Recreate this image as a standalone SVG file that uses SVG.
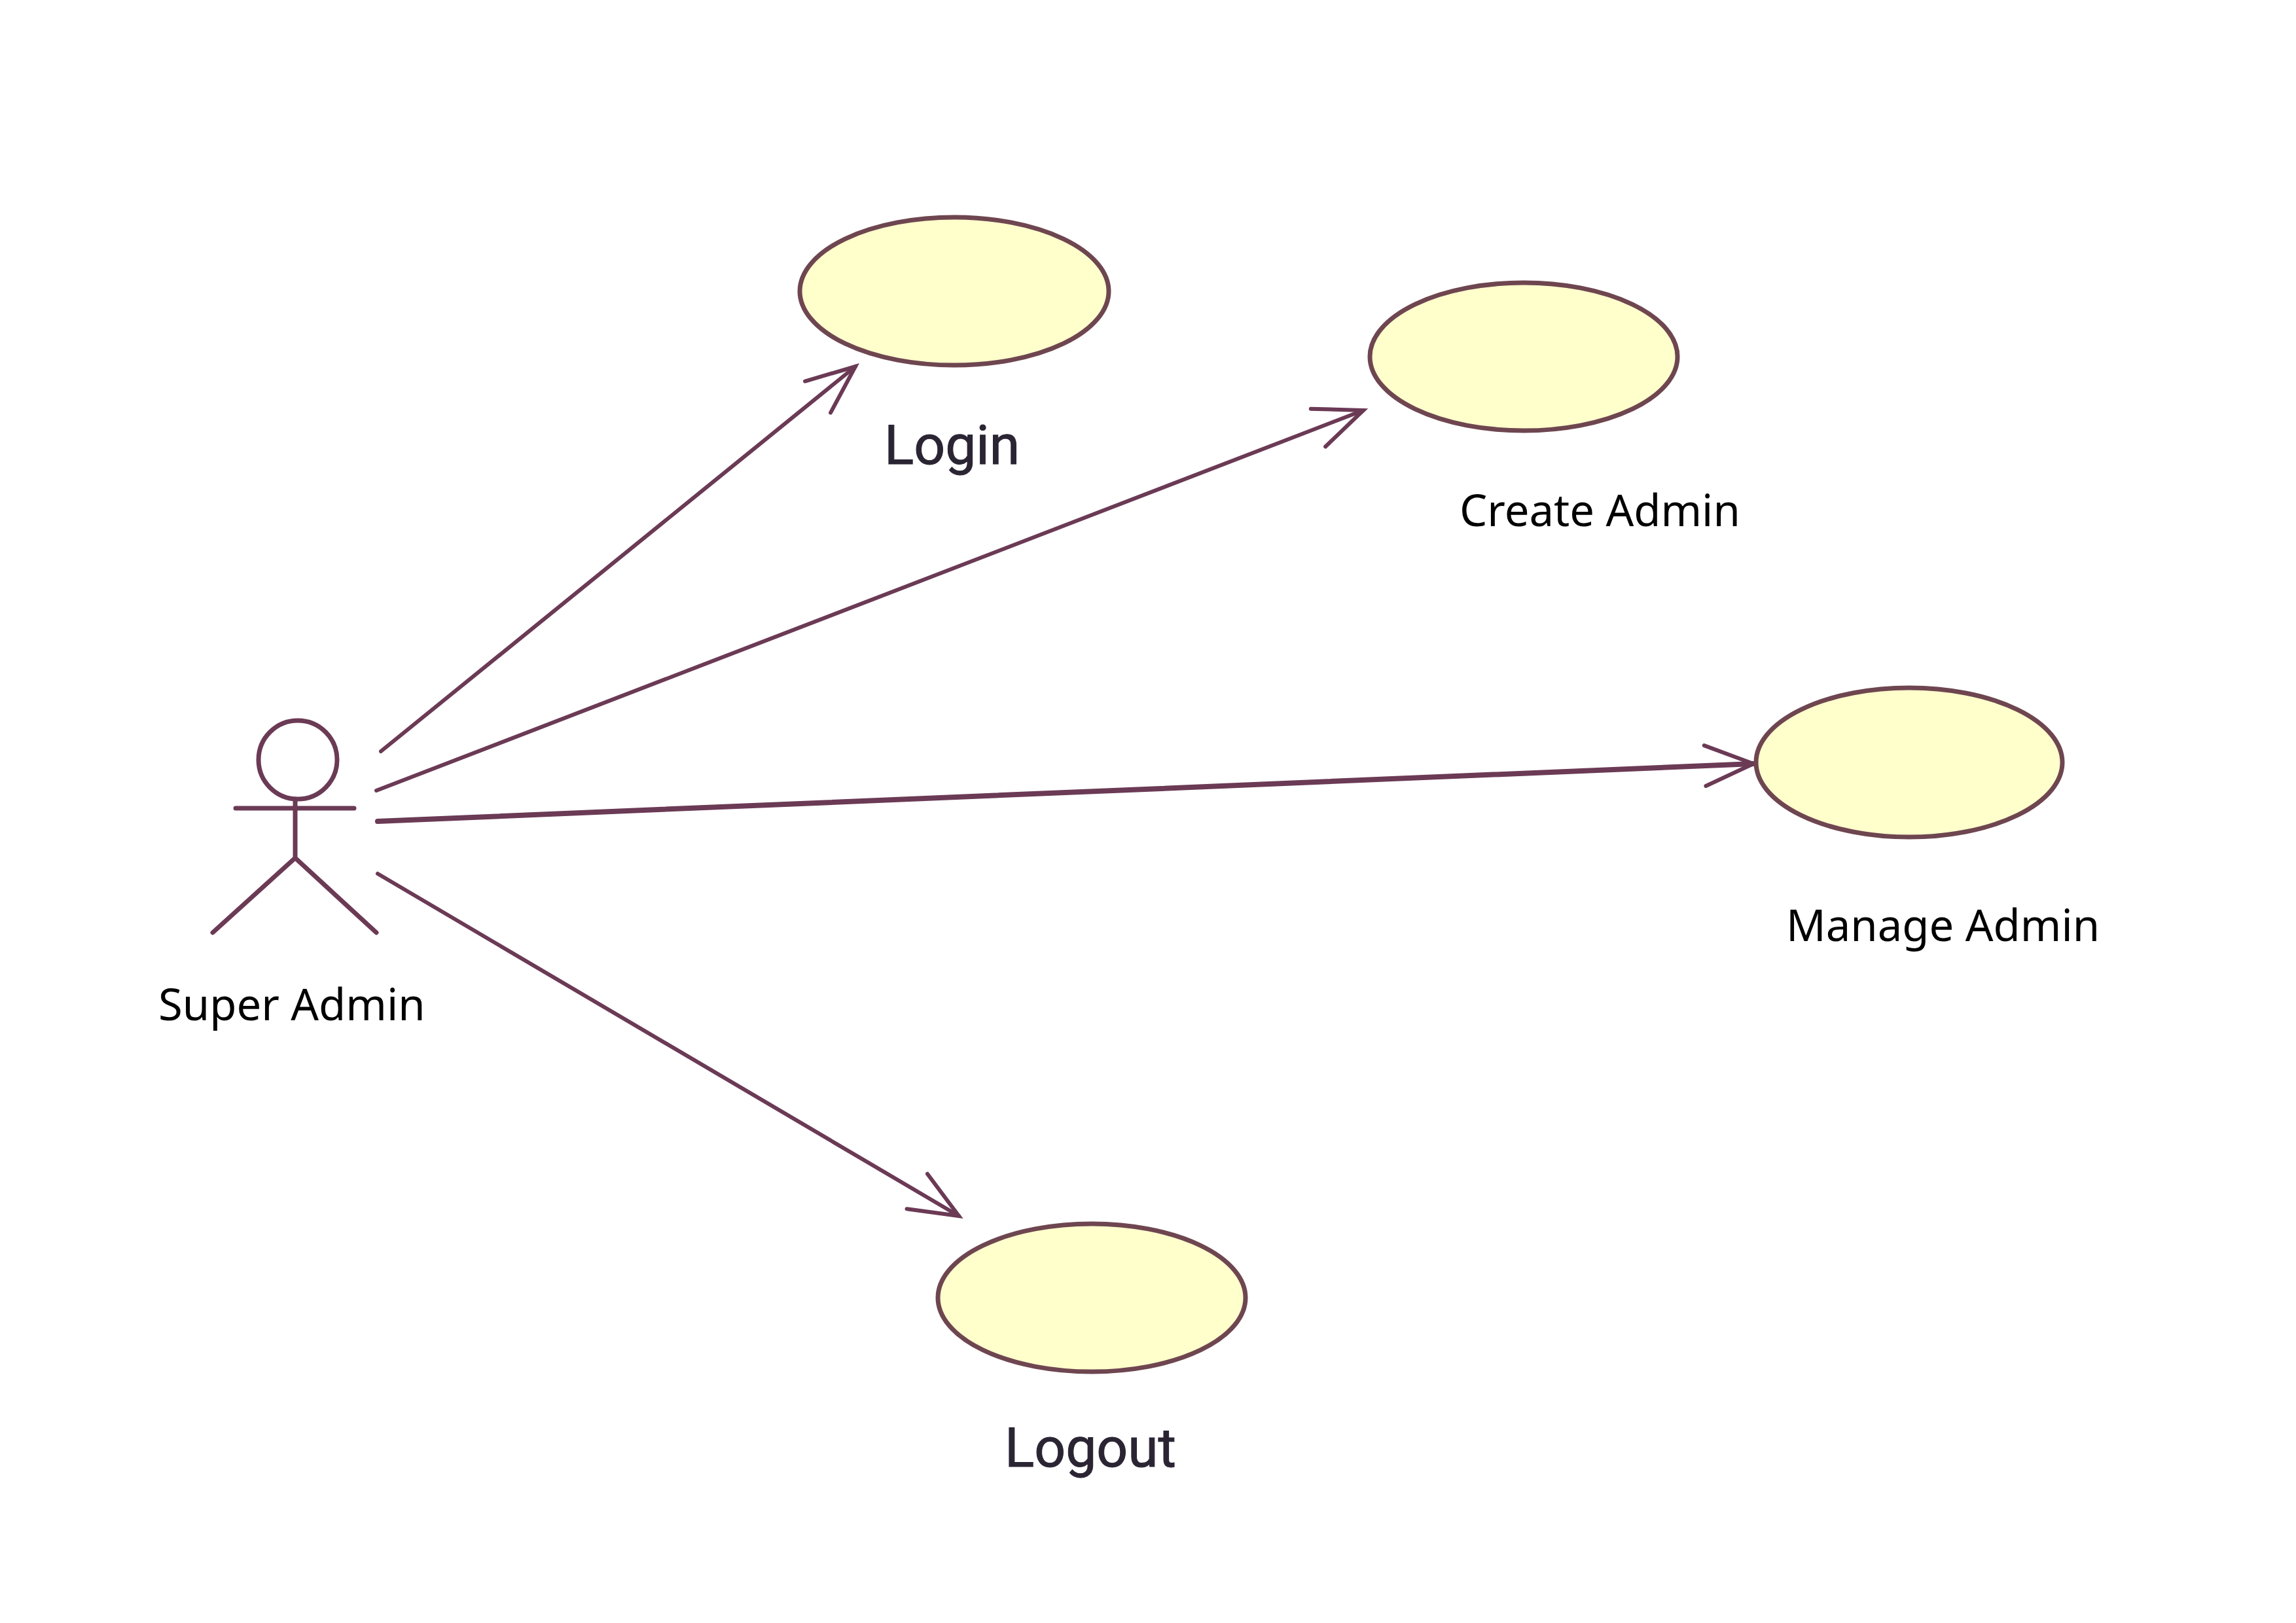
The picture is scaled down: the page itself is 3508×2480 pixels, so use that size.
<svg xmlns="http://www.w3.org/2000/svg" width="3508" height="2480" viewBox="0 0 3508 2480">
<style>
.usecase{fill:#ffffcc;stroke:#6e4650;stroke-width:7}
.actor{fill:none;stroke:#6b3a55;stroke-width:7;stroke-linecap:round}
.assoc{fill:none;stroke:#6b3a55;stroke-width:6;stroke-linecap:round;marker-end:url(#open)}
.myriad{font-family:"Noto Sans","Open Sans",sans-serif;font-size:67px;fill:#000}
.roboto{font-family:Roboto,"Liberation Sans",sans-serif;font-size:84px;font-weight:400;fill:#2a2433;stroke:#2a2433;stroke-width:1}
</style>
<defs>
<marker id="open" markerUnits="userSpaceOnUse" markerWidth="100" markerHeight="100" viewBox="-90 -50 100 100" refX="0" refY="0" orient="auto" overflow="visible">
<path d="M-74,-31 L0,0 L-74,31" fill="none" stroke="#6b3a55" stroke-width="6" stroke-linecap="round"/>
</marker>
</defs>
<rect width="3508" height="2480" fill="#fff"/>
<g id="connectors">
<line class="assoc" x1="582" y1="1148" x2="1307" y2="560"/>
<line class="assoc" x1="575" y1="1208" x2="2083" y2="627"/>
<line class="assoc" style="stroke-width:8" x1="577" y1="1255" x2="2679" y2="1167"/>
<line class="assoc" x1="577" y1="1335" x2="1465" y2="1858"/>
</g>
<g id="actor-super-admin">
<circle class="actor" cx="455" cy="1161" r="60"/>
<path class="actor" d="M451,1221V1311M360,1235H541M325,1425L451,1311L575,1425"/>
<text class="myriad" x="242" y="1559">Super Admin</text>
</g>
<g id="usecase-login">
<ellipse class="usecase" cx="1458" cy="445" rx="236" ry="113"/>
<text class="roboto" x="1351" y="709">Login</text>
</g>
<g id="usecase-create-admin">
<ellipse class="usecase" cx="2328" cy="545" rx="235" ry="113"/>
<text class="myriad" x="2230" y="804">Create Admin</text>
</g>
<g id="usecase-manage-admin">
<ellipse class="usecase" cx="2917" cy="1165" rx="234" ry="114"/>
<text class="myriad" x="2729" y="1438">Manage Admin</text>
</g>
<g id="usecase-logout">
<ellipse class="usecase" cx="1668" cy="1983" rx="235" ry="113"/>
<text class="roboto" x="1535" y="2241">Logout</text>
</g>
</svg>
